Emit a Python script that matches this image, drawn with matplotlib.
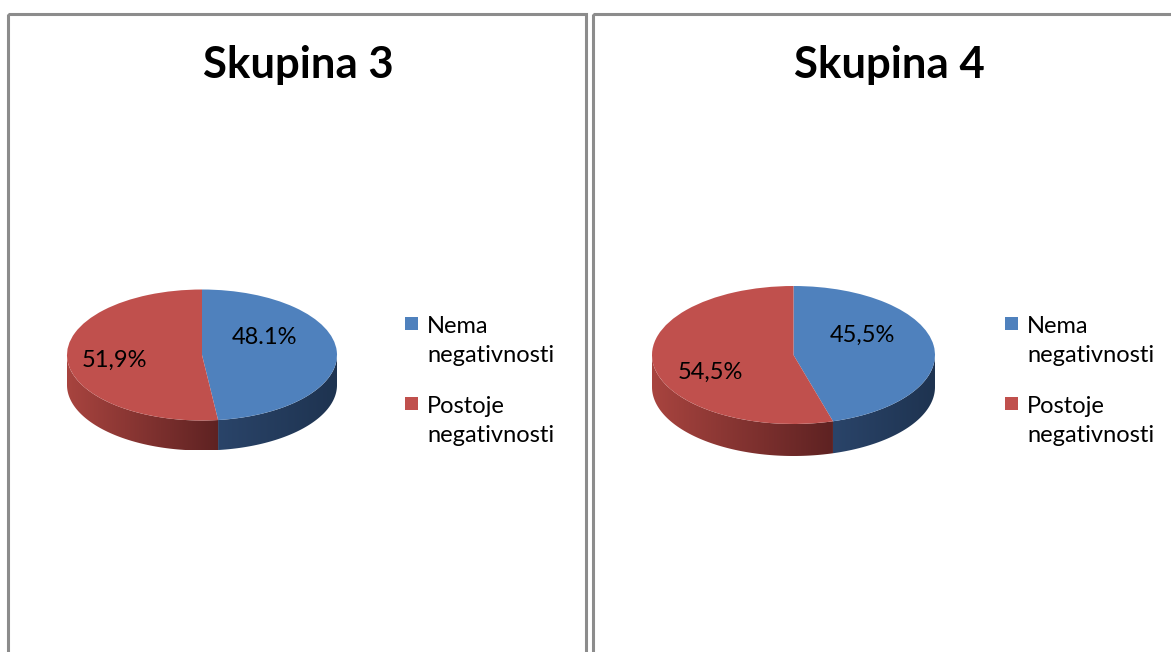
import numpy as np
import matplotlib
matplotlib.use("Agg")
import matplotlib.pyplot as plt
from matplotlib.patches import Polygon, Rectangle
from matplotlib.colors import LinearSegmentedColormap

# data
titles = ["Skupina 3", "Skupina 4"]
categories = ["Nema\nnegativnosti", "Postoje\nnegativnosti"]
shares_g3 = [48.1, 51.9]
shares_g4 = [45.5, 54.5]
labels_g3 = ["48.1%", "51,9%"]
labels_g4 = ["45,5%", "54,5%"]

top_colors = ["#4F81BD", "#C0504D"]
# side shading: (colour at left end, colour at right end)
side_colors = [("#2A4469", "#1E3350"), ("#A8443F", "#5E2222")]

W, H = 1171, 652
plt.rcParams["font.family"] = ["Lato", "DejaVu Sans"]

fig = plt.figure(figsize=(W / 100, H / 100), dpi=100)
over = fig.add_axes([0, 0, 1, 1])
over.set_xlim(0, W)
over.set_ylim(H, 0)
over.axis("off")

# panel geometry in pixels
panels = [
    dict(left=8, right=586, cx=202, cy=355, a=135, b=65.5, d=30,
         leg_x=405, title_x=298,
         lab=[(264, 337), (114, 360)]),
    dict(left=593, right=1190, cx=793.5, cy=355, a=141.5, b=69, d=32,
         leg_x=1005, title_x=889,
         lab=[(862, 335), (710, 372)]),
]
all_shares = [shares_g3, shares_g4]
all_labels = [labels_g3, labels_g4]

XL = (-1.25, 1.25)
YL = (-1.9, 1.3)


def pie_axes(p):
    l = p["cx"] + XL[0] * p["a"]
    r = p["cx"] + XL[1] * p["a"]
    t = p["cy"] - YL[1] * p["b"]
    btm = p["cy"] - YL[0] * p["b"]
    return fig.add_axes([l / W, (H - btm) / H, (r - l) / W, (btm - t) / H])


def side_intervals(t0, t1):
    # visible (front) part of a wedge running from t0 down to t1 (degrees)
    out = []
    for shift in (-360, 0, 360):
        lo, hi = max(t1 + shift, -180), min(t0 + shift, 0)
        if hi > lo:
            out.append((lo, hi))
    return out


for p, shares, labs, title in zip(panels, all_shares, all_labels, titles):
    # frame
    over.add_patch(Rectangle((p["left"], 13.5), p["right"] - p["left"], 700,
                             fill=False, edgecolor="#8C8C8C", lw=2.2))
    over.text(p["title_x"], 65, title, ha="center", va="center",
              fontsize=31.5, fontweight="bold", color="black")

    ax = pie_axes(p)
    wedges, _ = ax.pie(shares, colors=top_colors, startangle=90,
                       counterclock=False, radius=1,
                       wedgeprops=dict(linewidth=0))
    for w in wedges:
        w.set_zorder(3)

    dd = p["d"] / p["b"]
    frac = np.array(shares) / sum(shares)
    start = 90 - 360 * np.concatenate([[0], np.cumsum(frac)[:-1]])
    end = start - 360 * frac
    for i in range(len(shares)):
        for lo, hi in side_intervals(start[i], end[i]):
            th = np.radians(np.linspace(lo, hi, 80))
            xs, ys = np.cos(th), np.sin(th)
            pts = np.vstack([np.column_stack([xs, ys]),
                             np.column_stack([xs[::-1], ys[::-1] - dd])])
            poly = Polygon(pts, closed=True, facecolor="none",
                           edgecolor="none", transform=ax.transData)
            ax.add_patch(poly)
            cmap = LinearSegmentedColormap.from_list("s", side_colors[i])
            grad = np.linspace(0, 1, 256).reshape(1, -1)
            im = ax.imshow(grad, cmap=cmap, aspect="auto",
                           extent=(xs.min(), xs.max(), -1 - dd, 0.1),
                           zorder=2, interpolation="bilinear")
            im.set_clip_path(poly)

    for (lx, ly), s in zip(p["lab"], labs):
        ax.text((lx - p["cx"]) / p["a"], (p["cy"] - ly) / p["b"], s,
                ha="center", va="center", fontsize=17, zorder=5)

    ax.set_aspect("auto")
    ax.set_xlim(*XL)
    ax.set_ylim(*YL)
    ax.axis("off")

    # legend
    for k, (cat, col) in enumerate(zip(categories, top_colors)):
        y0 = 323 + 80 * k
        over.add_patch(Rectangle((p["leg_x"], y0 - 6.5), 13, 13,
                                 facecolor=col, edgecolor="none"))
        over.text(p["leg_x"] + 22, y0 + 18, cat, ha="left", va="center",
                  fontsize=17, linespacing=1.5, color="black")

fig.savefig("out.png", dpi=100)
